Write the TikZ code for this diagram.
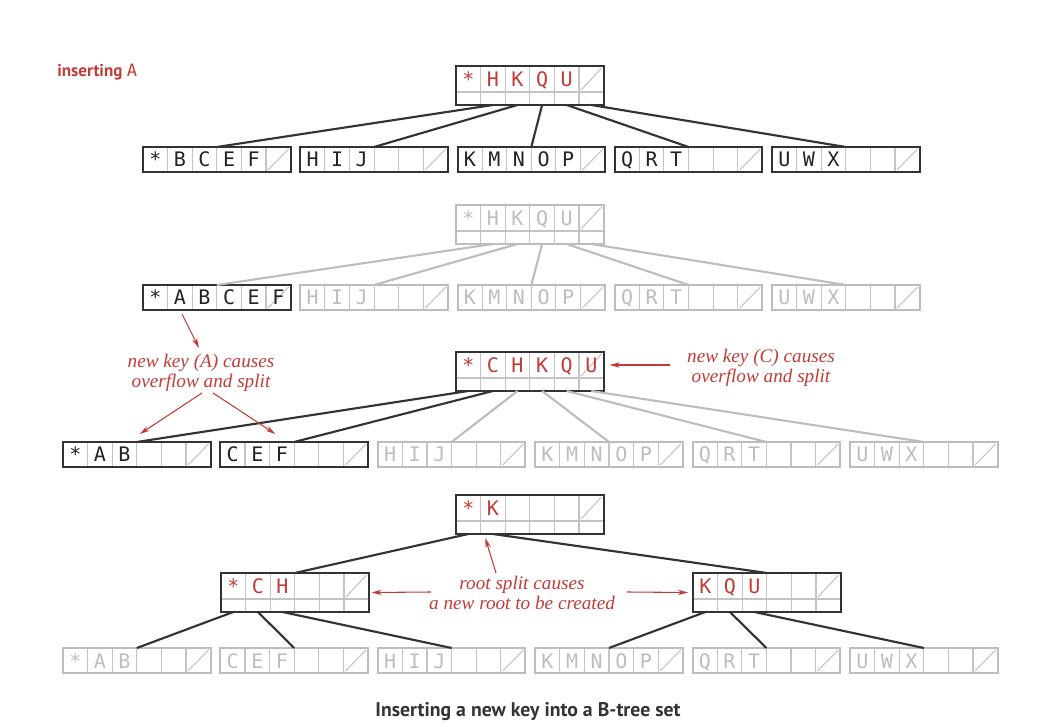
\documentclass[tikz,border=0pt]{standalone}
\usepackage{fontspec}
\setmainfont{Liberation Serif}
\newfontfamily\keyfamily{DejaVu Sans Mono}
\newfontfamily\labelfamily{PT Sans}
\usetikzlibrary{arrows.meta,calc}
\definecolor{linedark}{HTML}{333333}
\definecolor{linegray}{HTML}{BDBDBD}
\definecolor{cellgray}{HTML}{C4C4C4}
\definecolor{keyblack}{HTML}{222222}
\definecolor{keyred}{HTML}{C33B36}
\tikzset{
  pagecell/.style={draw=cellgray, line width=0.8pt},
  darkpage/.style={draw=linedark, line width=1.5pt},
  graypage/.style={draw=linegray, line width=1.5pt},
  key/.style={font=\keyfamily\fontsize{15}{16}\selectfont, inner sep=0pt, anchor=base},
  darkkey/.style={key, text=keyblack},
  redkey/.style={key, text=keyred},
  graykey/.style={key, text=linegray},
  darklink/.style={draw=linedark, line width=1.6pt},
  graylink/.style={draw=linegray, line width=1.6pt},
  note/.style={font=\itshape\fontsize{14.4}{15}\selectfont, text=keyred, align=center},
  notearrow/.style={draw=keyred, line width=0.8pt, -{Stealth[length=7.5pt,width=4pt]}},
}
\newcommand\leafpage[6]{%
  \foreach \i in {1,...,5}
    \draw[pagecell] ({#2+\i*24.6},#3) -- ++(0,25);
  \draw[pagecell] ({#2+125},{#3+23}) -- ({#2+145.6},{#3+2});
  \node[#5, inner sep=0pt, outer sep=0pt, minimum width=110.7pt, minimum height=18.75pt, anchor=north west] (#1) at (#2,#3) {};
  \foreach \k [count=\i from 0] in {#4}
    \node[#6] at ({#2+\i*24.6+12.3},{#3+20}) {\k};
}
\newcommand\innerpage[6]{%
  \foreach \i in {1,...,5}
    \draw[pagecell] ({#2+\i*24.6},#3) -- ++(0,39);
  \draw[pagecell] (#2,{#3+26}) -- ++(147.6,0);
  \draw[pagecell] ({#2+125},{#3+24}) -- ({#2+145.6},{#3+2});
  \node[#5, inner sep=0pt, outer sep=0pt, minimum width=110.7pt, minimum height=29.25pt, anchor=north west] (#1) at (#2,#3) {};
  \foreach \i in {0,...,5}
    \coordinate (#1-\i) at ({#2+\i*24.6+12.3},{#3+39});
  \foreach \k [count=\i from 0] in {#4}
    \node[#6] at ({#2+\i*24.6+12.3},{#3+20.5}) {\k};
}
\begin{document}
\begin{tikzpicture}[x=0.75pt,y=-0.75pt]
\useasboundingbox (0,0) rectangle (1040,727);
\node[anchor=west, inner sep=0pt, text=keyred] (ins) at (57,72)
  {\labelfamily\bfseries\fontsize{12.8}{14}\selectfont inserting \keyfamily\mdseries A};

\innerpage{r1}{456}{66}{*,H,K,Q,U}{darkpage}{redkey}
\leafpage{l1-1}{143}{147}{*,B,C,E,F}{darkpage}{darkkey}
\leafpage{l1-2}{300.25}{147}{H,I,J}{darkpage}{darkkey}
\leafpage{l1-3}{457.5}{147}{K,M,N,O,P}{darkpage}{darkkey}
\leafpage{l1-4}{614.75}{147}{Q,R,T}{darkpage}{darkkey}
\leafpage{l1-5}{772}{147}{U,W,X}{darkpage}{darkkey}
\foreach \i in {1,...,5}
  \draw[darklink] (r1-\i) -- (l1-\i.north);

\innerpage{r2}{456}{205}{*,H,K,Q,U}{graypage}{graykey}
\leafpage{l2-1}{143}{285}{*,A,B,C,E,F}{darkpage}{darkkey}
\leafpage{l2-2}{300.25}{285}{H,I,J}{graypage}{graykey}
\leafpage{l2-3}{457.5}{285}{K,M,N,O,P}{graypage}{graykey}
\leafpage{l2-4}{614.75}{285}{Q,R,T}{graypage}{graykey}
\leafpage{l2-5}{772}{285}{U,W,X}{graypage}{graykey}
\foreach \i in {1,...,5}
  \draw[graylink] (r2-\i) -- (l2-\i.north);

\innerpage{r3}{456}{352}{*,C,H,K,Q,U}{darkpage}{redkey}
\leafpage{l3-0}{63}{442}{*,A,B}{darkpage}{darkkey}
\leafpage{l3-1}{220.4}{442}{C,E,F}{darkpage}{darkkey}
\leafpage{l3-2}{377.8}{442}{H,I,J}{graypage}{graykey}
\leafpage{l3-3}{535.2}{442}{K,M,N,O,P}{graypage}{graykey}
\leafpage{l3-4}{692.6}{442}{Q,R,T}{graypage}{graykey}
\leafpage{l3-5}{850}{442}{U,W,X}{graypage}{graykey}
\foreach \i in {2,...,5}
  \draw[graylink] (r3-\i) -- (l3-\i.north);
\foreach \i in {0,1}
  \draw[darklink] (r3-\i) -- (l3-\i.north);

\innerpage{r4}{456}{495}{*,K}{darkpage}{redkey}
\innerpage{m4-1}{221}{573}{*,C,H}{darkpage}{redkey}
\innerpage{m4-2}{693}{573}{K,Q,U}{darkpage}{redkey}
\leafpage{l4-0}{63}{648}{*,A,B}{graypage}{graykey}
\leafpage{l4-1}{220.4}{648}{C,E,F}{graypage}{graykey}
\leafpage{l4-2}{377.8}{648}{H,I,J}{graypage}{graykey}
\leafpage{l4-3}{535.2}{648}{K,M,N,O,P}{graypage}{graykey}
\leafpage{l4-4}{692.6}{648}{Q,R,T}{graypage}{graykey}
\leafpage{l4-5}{850}{648}{U,W,X}{graypage}{graykey}
\draw[darklink] (r4-0) -- (m4-1.north);
\draw[darklink] (r4-1) -- (m4-2.north);
\foreach \i in {0,1,2}
  \draw[darklink] (m4-1-\i) -- (l4-\i.north);
\foreach \i/\j in {0/3,1/4,2/5}
  \draw[darklink] (m4-2-\i) -- (l4-\j.north);

\node[note] (n1) at (201,373) {new key (A) causes\\overflow and split};
\node[note] (n2) at (761,368) {new key (C) causes\\overflow and split};
\node[note] (n3) at (522,593) {root split causes\\a new root to be created};
\coordinate (n1a) at (199,348);
\coordinate (n1b) at (202,393);
\coordinate (n1c) at (213,393);
\coordinate (n2a) at (670,365);
\coordinate (n3a) at (496,573);
\coordinate (n3b) at (431,592);
\coordinate (n3c) at (627,592);
\draw[notearrow] ($(l2-1.south west)+(39,4)$) -- (n1a);
\draw[notearrow] (n1b) -- ($(l3-0.north)+(3,-8)$);
\draw[notearrow] (n1c) -- ($(l3-1.north west)+(55,-8)$);
\draw[notearrow] (n2a) -- ($(r3.north east)+(6,13)$);
\draw[notearrow] (n3a) -- ($(r4-0)+(17,4)$);
\draw[notearrow] (n3b) -- ($(m4-1.east)+(3,0)$);
\draw[notearrow] (n3c) -- ($(m4-2.west)+(-5,0)$);

\node[font=\labelfamily\bfseries\fontsize{14.8}{16}\selectfont, text=linedark] (caption) at (528,712)
  {Inserting a new key into a B-tree set};
\end{tikzpicture}
\end{document}
